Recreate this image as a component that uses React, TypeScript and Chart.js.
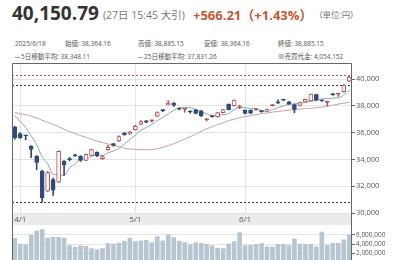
import React, { useEffect, useRef } from 'react';
import { Chart, registerables } from 'chart.js';
Chart.register(...registerables);

const dates = ['3/31',
  '4/1','4/2','4/3','4/4','4/7','4/8','4/9','4/10','4/11','4/14','4/15','4/16','4/17','4/18','4/21','4/22','4/23','4/24','4/25','4/28','4/30',
  '5/1','5/2','5/7','5/8','5/9','5/12','5/13','5/14','5/15','5/16','5/19','5/20','5/21','5/22','5/23','5/26','5/27','5/28','5/29','5/30',
  '6/2','6/3','6/4','6/5','6/6','6/9','6/10','6/11','6/12','6/13','6/16','6/17','6/18','6/19','6/20','6/23','6/24','6/25','6/26','6/27'];

const opens = [36430,35930,35790,35000,34230,33130,31630,32490,32310,33880,34010,34310,34230,33930,34290,34530,34050,34730,35180,35380,35980,35880,
  36230,36630,36880,36880,37230,37680,38080,38180,37800,37740,37570,37700,37630,36960,37240,37180,37500,38120,38020,37880,
  37680,37680,37700,37620,37600,38020,38300,38440,38300,38100,38030,38300,38364,38850,38430,38250,38870,38880,39050,39850];
const highs = [36470,35990,35810,35030,34300,33200,33100,32600,34640,33920,34150,34400,34280,34400,34760,34560,34300,35050,35200,35760,36000,36100,
  36560,36900,36920,36960,37560,37720,38380,38250,37850,37790,37650,37740,37660,37050,37260,37520,37740,38150,38450,38050,
  37700,37700,37800,37660,37760,38100,38450,38500,38330,38130,38280,38500,38885,38880,38450,38360,38900,38950,39600,40280];
const lows = [35500,35560,35470,34140,33240,30810,31600,31310,32280,32810,33900,34220,33850,33900,34250,34200,34000,34700,34980,35350,35800,35860,
  36200,36600,36740,36780,37200,37560,38060,37950,37700,37520,37450,37400,37200,36880,37150,37150,37480,37700,38000,37800,
  37400,37420,37650,37520,37580,37980,38180,38380,38100,37480,38000,38280,38364,38400,38330,38000,38780,38700,39030,39800];
const closes = [35600,35620,35760,34740,33780,31140,33010,31710,34610,33590,33980,34270,33920,34380,34730,34280,34220,34900,35040,35710,35840,36050,
  36480,36830,36780,36930,37500,37640,38180,38050,37750,37770,37540,37430,37250,36990,37200,37500,37720,37720,38430,37920,
  37430,37450,37770,37570,37730,38070,38200,38420,38130,37730,38250,38480,38885,38430,38360,38340,38840,38920,39550,40150];

const ma5 = [37265,36833,36372,35760,35092,34200,33678,32876,32850,32812,33380,33632,34074,34028,34256,34316,34306,34496,34628,34824,35136,35502,
  35818,36176,36390,36608,36898,37136,37406,37676,37842,37892,37864,37734,37568,37414,37296,37302,37340,37424,37712,37874,
  37862,37808,37814,37638,37592,37716,37868,38002,38126,38144,38188,38254,38348,38411,38525,38533,38583,38594,38812,39162];
const ma25 = [37500,37420,37340,37230,37100,36930,36780,36600,36450,36250,36080,35930,35780,35640,35500,35370,35260,35150,35050,34950,34830,34780,
  34750,34730,34720,34740,34800,34900,35030,35180,35340,35520,35700,35880,36100,36280,36450,36600,36750,36900,37000,37120,
  37200,37280,37350,37420,37470,37530,37580,37630,37680,37720,37760,37790,37831,37860,37900,37960,38050,38130,38200,38260];

const volumes = [5350000,4100000,3900000,6000000,6900000,7200000,5400000,5560000,5560000,5400000,3750000,3400000,3700000,3600000,3100000,2900000,3100000,4200000,4100000,4300000,4700000,5400000,
  4600000,4800000,4900000,4400000,5700000,4800000,6100000,5500000,4700000,4400000,3900000,4400000,4250000,4000000,3700000,3200000,3100000,4100000,4600000,6600000,
  3750000,3800000,4000000,4200000,3500000,3450000,4000000,3950000,3750000,5200000,4100000,3950000,4000000,3500000,6700000,3800000,4250000,4250000,5000000,6100000];

const priceTicks = [30000, 32000, 34000, 36000, 38000, 40000];
const volumeTicks = [2000000, 4000000, 6000000];
const refLines = [40280, 39530, 30790];

const priceMin = 30000;
const priceMax = 41200;
const volumeMax = 8150000;

const title = '40,150.79';
const subTitle = '(27日 15:45 大引)';
const change = '+566.21（+1.43%）';
const unit = '(単位:円)';
const infoRow1 = ['2025/6/18', '始値: 38,364.16', '高値: 38,885.15', '安値: 38,364.16', '終値: 38,885.15'];
const infoRow2 = ['5日移動平均: 38,348.11', '25日移動平均: 37,831.26', '売買代金: 4,054,152'];

const FONT = '"Open Sans", "Noto Sans CJK JP", sans-serif';
const UP = '#b5524f';
const DOWN = '#2f4b7a';
const MA5C = '#8ba3bc';
const MA25C = '#caa0a0';
const VOLC = '#b7c5d1';
const GRID = '#e3e3e3';
const FRAME = '#666';
const refColors = ['#c0504d', '#333', '#333'];

const month = (d: string) => d.split('/')[0];
const isMonthStart = dates.map((d, i) => i > 0 && month(d) !== month(dates[i - 1]));

export default function App() {
  const priceRef = useRef<HTMLCanvasElement>(null);
  const volRef = useRef<HTMLCanvasElement>(null);

  useEffect(() => {
    const upColor = (i: number) => closes[i] >= opens[i];
    const bodyFill = opens.map((o, i) => {
      if (!upColor(i)) return DOWN;
      return Math.abs(closes[i] - o) < 100 ? UP : '#ffffff';
    });
    const lineColor = opens.map((o, i) => (upColor(i) ? UP : DOWN));

    const framePlugin = {
      id: 'frame',
      beforeDraw(chart: any) {
        const { ctx, chartArea: a } = chart;
        ctx.save();
        ctx.fillStyle = '#ebebeb';
        ctx.fillRect(a.left, a.bottom, a.right - a.left, 12);
        ctx.restore();
      },
      beforeDatasetsDraw(chart: any) {
        const { ctx, chartArea: a, scales } = chart;
        ctx.save();
        ctx.lineWidth = 1;
        ctx.setLineDash([2, 2]);
        refLines.forEach((v, i) => {
          const y = Math.round(scales.y.getPixelForValue(v)) + 0.5;
          ctx.strokeStyle = refColors[i];
          ctx.beginPath();
          ctx.moveTo(a.left, y);
          ctx.lineTo(a.right, y);
          ctx.stroke();
        });
        ctx.restore();
      },
      afterDraw(chart: any) {
        const { ctx, chartArea: a } = chart;
        ctx.save();
        ctx.strokeStyle = FRAME;
        ctx.lineWidth = 1;
        const l = Math.round(a.left) + 0.5;
        const r = Math.round(a.right) - 0.5;
        const t = Math.round(a.top) + 0.5;
        const b = a.bottom + 12;
        ctx.beginPath();
        ctx.moveTo(l, b); ctx.lineTo(l, t); ctx.lineTo(r, t); ctx.lineTo(r, b);
        ctx.stroke();
        ctx.restore();
      },
    };

    const price = new Chart(priceRef.current!, {
      type: 'bar',
      data: {
        labels: dates,
        datasets: [
          {
            type: 'bar',
            data: opens.map((o, i) => [o, closes[i]]),
            backgroundColor: bodyFill,
            borderColor: lineColor,
            borderWidth: 1,
            borderSkipped: false,
            barThickness: 4,
            minBarLength: 1,
            grouped: false,
            order: 0,
          } as any,
          {
            type: 'bar',
            data: lows.map((l, i) => [l, highs[i]]),
            backgroundColor: lineColor,
            borderWidth: 0,
            barThickness: 1,
            grouped: false,
            order: 1,
          } as any,
          {
            type: 'line',
            data: ma5,
            borderColor: MA5C,
            borderWidth: 1,
            pointRadius: 0,
            cubicInterpolationMode: 'monotone',
            order: 2,
          } as any,
          {
            type: 'line',
            data: ma25,
            borderColor: MA25C,
            borderWidth: 1,
            pointRadius: 0,
            cubicInterpolationMode: 'monotone',
            order: 3,
          } as any,
        ],
      },
      options: {
        animation: false,
        responsive: false,
        maintainAspectRatio: false,
        layout: { padding: { left: 12, top: 10, right: 0, bottom: 0 } },
        plugins: { legend: { display: false }, tooltip: { enabled: false } },
        scales: {
          x: {
            offset: true,
            grid: {
              offset: false,
              drawTicks: false,
              color: (c: any) => (isMonthStart[c.index] ? GRID : 'rgba(0,0,0,0)'),
            },
            border: { display: false },
            ticks: {
              autoSkip: false,
              maxRotation: 0,
              padding: 2,
              color: '#555',
              font: { size: 8, family: FONT },
              callback: (_v: any, i: number) => (isMonthStart[i] ? month(dates[i]) + '/1' : ''),
            },
            afterFit: (s: any) => { s.height = 12; },
          },
          y: {
            position: 'right',
            min: priceMin,
            max: priceMax,
            afterBuildTicks: (s: any) => { s.ticks = priceTicks.map((v) => ({ value: v })); },
            grid: { color: GRID, tickColor: FRAME, tickLength: 3 },
            border: { display: false },
            ticks: {
              padding: 1,
              color: '#555',
              font: { size: 7.5, family: FONT },
              callback: (v: any) => Number(v).toLocaleString('en-US'),
            },
            afterFit: (s: any) => { s.width = 48; },
          },
        },
      } as any,
      plugins: [framePlugin],
    });

    const volFrame = {
      id: 'volframe',
      afterDraw(chart: any) {
        const { ctx, chartArea: a } = chart;
        ctx.save();
        ctx.strokeStyle = FRAME;
        ctx.lineWidth = 1;
        const l = Math.round(a.left) + 0.5;
        const r = Math.round(a.right) - 0.5;
        ctx.beginPath();
        ctx.moveTo(l, a.top); ctx.lineTo(l, a.bottom);
        ctx.moveTo(r, a.top); ctx.lineTo(r, a.bottom);
        ctx.stroke();
        ctx.restore();
      },
    };

    const vol = new Chart(volRef.current!, {
      type: 'bar',
      data: {
        labels: dates,
        datasets: [
          {
            data: volumes,
            backgroundColor: VOLC,
            borderWidth: 0,
            categoryPercentage: 1,
            barPercentage: 0.84,
          },
        ],
      },
      options: {
        animation: false,
        responsive: false,
        maintainAspectRatio: false,
        layout: { padding: { left: 12, top: 10, right: 0, bottom: 12.5 } },
        plugins: { legend: { display: false }, tooltip: { enabled: false } },
        scales: {
          x: { display: false, offset: true },
          y: {
            position: 'right',
            min: 0,
            max: volumeMax,
            afterBuildTicks: (s: any) => { s.ticks = volumeTicks.map((v) => ({ value: v })); },
            grid: { color: GRID, tickColor: FRAME, tickLength: 3 },
            border: { display: false },
            ticks: {
              padding: 1,
              color: '#555',
              font: { size: 6.5, family: FONT },
              callback: (v: any) => Number(v).toLocaleString('en-US'),
            },
            afterFit: (s: any) => { s.width = 48; },
          },
        },
      } as any,
      plugins: [volFrame],
    });

    return () => {
      price.destroy();
      vol.destroy();
    };
  }, []);

  const abs = (left: number, top: number, extra: any = {}) => ({
    position: 'absolute' as const,
    left,
    top,
    whiteSpace: 'nowrap' as const,
    fontFamily: FONT,
    ...extra,
  });
  const small = { fontSize: 6.5, lineHeight: '8px', color: '#555' };
  const dash = (c: string) => (
    <span style={{ display: 'inline-block', width: 5, height: 0, borderTop: `1px solid ${c}`, verticalAlign: 'middle', marginRight: 1 }} />
  );

  return (
    <div style={{ position: 'absolute', left: 0, top: 0, width: 400, height: 260, overflow: 'hidden', background: '#fff' }}>
      <div style={abs(12, 2, { fontSize: 19, fontWeight: 700, lineHeight: '22px', color: '#333' })}>{title}</div>
      <div style={abs(103, 8, { fontSize: 10.5, lineHeight: '14px', color: '#777' })}>{subTitle}</div>
      <div style={abs(193, 6, { fontSize: 13, fontWeight: 700, lineHeight: '18px', color: '#c4572f' })}>{change}</div>
      <div style={abs(320, 9, { fontSize: 8.5, lineHeight: '12px', color: '#777' })}>{unit}</div>

      <div style={abs(15, 40, small)}>{infoRow1[0]}</div>
      <div style={abs(65, 40, small)}>{infoRow1[1]}</div>
      <div style={abs(138, 40, small)}>{infoRow1[2]}</div>
      <div style={abs(204, 40, small)}>{infoRow1[3]}</div>
      <div style={abs(278, 40, small)}>{infoRow1[4]}</div>

      <div style={abs(15, 53, small)}>{dash(MA5C)}{infoRow2[0]}</div>
      <div style={abs(138, 53, small)}>{dash(MA25C)}{infoRow2[1]}</div>
      <div style={abs(278, 53, small)}><span style={{ color: VOLC }}>■</span>{infoRow2[2]}</div>

      <canvas ref={priceRef} width={400} height={172} style={{ position: 'absolute', left: 0, top: 53, width: 400, height: 172 }} />
      <canvas ref={volRef} width={400} height={60} style={{ position: 'absolute', left: 0, top: 215, width: 400, height: 60 }} />
    </div>
  );
}
